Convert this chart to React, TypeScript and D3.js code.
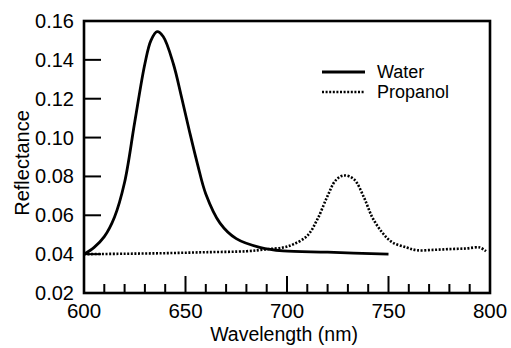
import { useEffect, useRef } from 'react';
import * as d3 from 'd3';

// Water reflectance (solid)
const waterWavelength = [600, 605, 610, 615, 620, 625, 630, 633, 636, 639, 644, 648, 652, 656, 660, 667, 675, 687, 698, 720, 750];
const waterReflectance = [0.040, 0.0435, 0.049, 0.059, 0.077, 0.108, 0.138, 0.150, 0.1545, 0.152, 0.138, 0.121, 0.103, 0.086, 0.071, 0.056, 0.048, 0.0434, 0.0417, 0.041, 0.040];

// Propanol reflectance (dotted)
const propanolWavelength = [600, 620, 640, 660, 680, 690, 698, 703, 710, 715, 720, 724, 728, 733, 738, 742, 747, 752, 759, 764, 772, 780, 788, 795, 798];
const propanolReflectance = [0.040, 0.0402, 0.0405, 0.041, 0.0415, 0.0425, 0.0434, 0.045, 0.0495, 0.058, 0.070, 0.078, 0.0805, 0.0785, 0.069, 0.059, 0.051, 0.046, 0.0434, 0.042, 0.0422, 0.0426, 0.0429, 0.0434, 0.0415];

const xMajorTicks = [600, 650, 700, 750, 800];
const xMinorTicks = d3.range(610, 800, 10).filter(v => v % 50 !== 0);
const yTicks = [0.02, 0.04, 0.06, 0.08, 0.10, 0.12, 0.14, 0.16];

const FONT = '"Liberation Sans", Arial, Helvetica, sans-serif';

export default function App() {
    const svgRef = useRef<SVGSVGElement>(null);

    useEffect(() => {
        if (!svgRef.current) return;
        const svg = d3.select(svgRef.current);
        svg.selectAll('*').remove();

        const left = 84, right = 490, top = 21, bottom = 293;

        const x = d3.scaleLinear().domain([600, 800]).range([left, right]);
        const y = d3.scaleLinear().domain([0.02, 0.16]).range([bottom, top]);

        const line = d3.line<[number, number]>()
            .x(d => x(d[0]))
            .y(d => y(d[1]))
            .curve(d3.curveCatmullRom.alpha(0.5));

        const water = waterWavelength.map((w, i) => [w, waterReflectance[i]] as [number, number]);
        const propanol = propanolWavelength.map((w, i) => [w, propanolReflectance[i]] as [number, number]);

        // Curves
        svg.append('path')
            .attr('d', line(propanol)!)
            .attr('fill', 'none')
            .attr('stroke', '#000')
            .attr('stroke-width', 2.6)
            .attr('stroke-dasharray', '2,1.6');

        svg.append('path')
            .attr('d', line(water)!)
            .attr('fill', 'none')
            .attr('stroke', '#000')
            .attr('stroke-width', 2.8);

        // Frame
        svg.append('rect')
            .attr('x', left)
            .attr('y', top)
            .attr('width', right - left)
            .attr('height', bottom - top)
            .attr('fill', 'none')
            .attr('stroke', '#000')
            .attr('stroke-width', 2.6);

        // X ticks (inward)
        xMajorTicks.slice(1, -1).forEach(t => {
            svg.append('line')
                .attr('x1', x(t)).attr('x2', x(t))
                .attr('y1', bottom).attr('y2', bottom - 17)
                .attr('stroke', '#000').attr('stroke-width', 2);
        });
        xMinorTicks.forEach(t => {
            svg.append('line')
                .attr('x1', x(t)).attr('x2', x(t))
                .attr('y1', bottom).attr('y2', bottom - 9)
                .attr('stroke', '#000').attr('stroke-width', 2);
        });

        // Y ticks (inward)
        yTicks.slice(1, -1).forEach(t => {
            svg.append('line')
                .attr('x1', left).attr('x2', left + 17)
                .attr('y1', y(t)).attr('y2', y(t))
                .attr('stroke', '#000').attr('stroke-width', 2);
        });

        // Tick labels
        svg.append('g')
            .selectAll('text')
            .data(xMajorTicks)
            .join('text')
            .attr('x', d => x(d))
            .attr('y', 318)
            .attr('text-anchor', 'middle')
            .attr('font-family', FONT)
            .attr('font-size', '20.5px')
            .text(d => d);

        svg.append('g')
            .selectAll('text')
            .data(yTicks)
            .join('text')
            .attr('x', 74)
            .attr('y', d => y(d))
            .attr('dy', '0.35em')
            .attr('text-anchor', 'end')
            .attr('font-family', FONT)
            .attr('font-size', '20px')
            .text(d => d.toFixed(2));

        // Axis titles
        svg.append('text')
            .attr('x', 284)
            .attr('y', 341)
            .attr('text-anchor', 'middle')
            .attr('font-family', FONT)
            .attr('font-size', '19.5px')
            .text('Wavelength (nm)');

        svg.append('text')
            .attr('transform', `translate(29,${(top + bottom) / 2 + 6}) rotate(-90)`)
            .attr('text-anchor', 'middle')
            .attr('font-family', FONT)
            .attr('font-size', '20px')
            .text('Reflectance');

        // Legend
        const legend = [
            { label: 'Water', dash: null as string | null, yPos: 72 },
            { label: 'Propanol', dash: '2,1.6', yPos: 92 },
        ];
        legend.forEach(l => {
            const ln = svg.append('line')
                .attr('x1', 322).attr('x2', 365)
                .attr('y1', l.yPos).attr('y2', l.yPos)
                .attr('stroke', '#000')
                .attr('stroke-width', l.dash ? 2.6 : 2.8);
            if (l.dash) ln.attr('stroke-dasharray', l.dash);
            svg.append('text')
                .attr('x', 377)
                .attr('y', l.yPos + 6)
                .attr('font-family', FONT)
                .attr('font-size', '18px')
                .text(l.label);
        });
    }, []);

    return (
        <div style={{ position: 'fixed', left: 0, top: 0 }}>
            <svg ref={svgRef} width="511" height="348" style={{ background: '#fff', display: 'block' }} />
        </div>
    );
}
